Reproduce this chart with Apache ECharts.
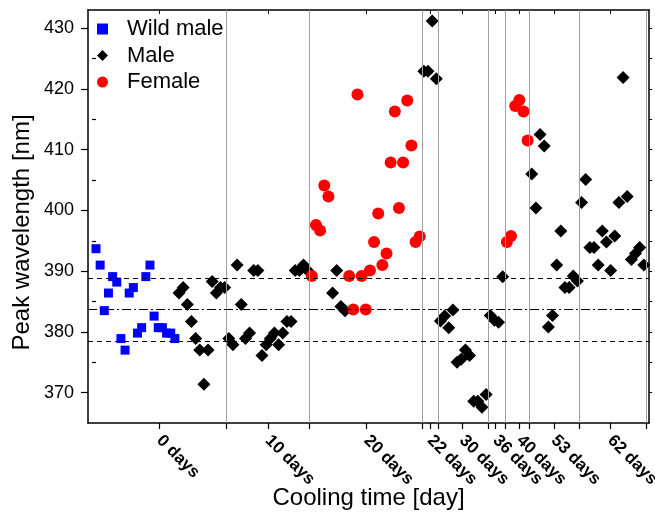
<!DOCTYPE html>
<html>
<head>
<meta charset="utf-8">
<script src="https://cdn.jsdelivr.net/npm/echarts@6/dist/echarts.min.js"></script>
<style>html,body{margin:0;padding:0;background:#fff;}#c{width:655px;height:515px;}</style>
</head>
<body>
<div id="c"></div>
<script>
// measurement index (position along the x axis) and peak wavelength [nm]
const wildX = [0,1,2,3,4,5,6,7,8,9,10,11,12,13,14,15,16,17,18,19];
const wildY = [393.7,391.0,383.5,386.4,389.1,388.2,378.9,377.0,386.4,387.3,379.8,380.7,389.1,391.0,382.6,380.7,380.7,379.8,379.8,378.9];

const maleX = [20,21,22,23,24,25,26,27,28,29,30,31,
  32,33,34,35,36,37,38,39,40,41,42,43,44,45,46,47,48,49,50,51,
  57,58,59,60,
  79,80,81,82,
  83,84,85,86,87,88,89,90,91,92,93,94,
  95,96,97,98,
  105,106,107,108,109,110,111,112,113,114,115,116,
  117,118,119,120,121,122,123,124,125,126,127,128,129,130,131,132];
const maleY = [386.4,387.3,384.5,381.7,378.9,377.0,371.4,377.0,388.3,386.4,387.3,387.3,
  378.9,377.9,391.0,384.5,378.9,379.8,390.1,390.1,376.1,377.9,378.9,379.8,377.9,379.8,381.7,381.7,390.1,390.1,391.0,390.1,
  386.4,390.1,384.2,383.5,
  422.9,422.9,431.2,421.7,
  381.8,382.6,380.7,383.6,375.0,375.5,377.0,376.1,368.6,368.6,367.6,369.7,
  382.7,381.9,381.6,389.1,
  406.0,400.4,412.5,410.6,380.8,382.7,391.0,396.6,387.3,387.3,389.2,388.4,
  401.3,405.1,393.9,393.9,391.0,396.6,394.8,390.1,395.8,401.3,421.9,402.3,391.9,392.9,393.9,391.0];

const femaleX = [52,53,54,55,56,61,62,63,64,65,66,67,68,69,70,71,72,73,74,75,76,77,78,
  99,100,101,102,103,104];
const femaleY = [389.2,397.6,396.7,404.1,402.3,389.2,383.7,419.1,389.2,383.7,390.1,394.8,399.5,391.0,392.9,407.9,416.3,400.4,407.9,418.1,410.7,394.8,395.7,
  394.8,395.8,417.2,418.2,416.3,411.5];

// x-axis groups
const groupLabels = ['0 days','10 days','20 days','22 days','30 days','36 days','40 days','53 days','62 days'];
const groupCenters = [15.25,41.4,65.2,80.5,88.2,96.3,102,110.3,123.9];
const separators = [31.5,51.5,78.5,82.5,94.5,98.5,104.5,116.5,132.5];

// reference levels [nm]
const refDashed = [388.9,378.5];
const refDashDot = [383.7];

const yTicks = [370,380,390,400,410,420,430];
const yMinorTicks = [375,385,395,405,415,425];

const pairs = (xs, ys) => xs.map((x, i) => [x, ys[i]]);
const FONT = 'Liberation Sans, Arial, sans-serif';
const xTickVals = groupCenters.concat(separators);

const chart = echarts.init(document.getElementById('c'), null, {renderer: 'canvas'});
chart.setOption({
  animation: false,
  backgroundColor: '#fff',
  grid: {left: 88, right: 6, top: 10, bottom: 92, containLabel: false, outerBoundsMode: 'none'},
  legend: {
    orient: 'vertical', left: 92, top: 13,
    itemWidth: 11, itemHeight: 11, itemGap: 4.5,
    textStyle: {fontFamily: FONT, fontSize: 22, color: '#000', lineHeight: 22, padding: [0,0,0,14]},
    data: [{name: 'Wild male', icon: 'rect'}, {name: 'Male', icon: 'diamond'}, {name: 'Female', icon: 'circle'}]
  },
  xAxis: [{
    type: 'value', min: -1.93, max: 133.25, position: 'bottom',
    name: 'Cooling time [day]', nameLocation: 'middle', nameGap: 63, nameMoveOverlap: false,
    nameTextStyle: {fontFamily: FONT, fontSize: 24, color: '#000'},
    axisLine: {show: true, onZero: false, lineStyle: {color: '#000', width: 1.5}},
    axisTick: {show: true, inside: false, length: 6, customValues: xTickVals, lineStyle: {color: '#000', width: 1.2}},
    axisLabel: {
      customValues: groupCenters, rotate: -45, margin: 15,
      fontFamily: FONT, fontSize: 17, fontWeight: 'bold', color: '#000',
      formatter: v => { const i = groupCenters.findIndex(c => Math.abs(c - v) < 1e-6); return i >= 0 ? groupLabels[i] : ''; }
    },
    splitLine: {show: false}
  }, {
    type: 'value', min: -1.93, max: 133.25, position: 'top',
    axisLine: {show: true, onZero: false, lineStyle: {color: '#000', width: 1.5}},
    axisTick: {show: true, inside: true, length: 4, customValues: xTickVals, lineStyle: {color: '#000', width: 1}},
    axisLabel: {show: false}, splitLine: {show: false}
  }],
  yAxis: [{
    type: 'value', min: 365, max: 433, position: 'left',
    name: 'Peak wavelength [nm]', nameLocation: 'middle', nameGap: 54, nameMoveOverlap: false,
    nameTextStyle: {fontFamily: FONT, fontSize: 24, color: '#000', padding: [0,32,0,0]},
    axisLine: {show: true, onZero: false, lineStyle: {color: '#000', width: 1.5}},
    axisTick: {show: true, inside: false, length: 7, customValues: yTicks, lineStyle: {color: '#000', width: 1.2}},
    axisLabel: {customValues: yTicks, margin: 14, fontFamily: FONT, fontSize: 18, color: '#000'},
    splitLine: {show: false}
  }, {
    type: 'value', min: 365, max: 433, position: 'left',
    axisLine: {show: false},
    axisTick: {show: true, inside: false, length: 4, customValues: yMinorTicks, lineStyle: {color: '#000', width: 1.2}},
    axisLabel: {show: false}, splitLine: {show: false}
  }, {
    type: 'value', min: 365, max: 433, position: 'right',
    axisLine: {show: true, onZero: false, lineStyle: {color: '#000', width: 1.5}},
    axisTick: {show: true, inside: false, length: 3, customValues: yTicks.concat(yMinorTicks), lineStyle: {color: '#000', width: 1}},
    axisLabel: {show: false}, splitLine: {show: false}
  }],
  series: [{
    type: 'scatter', name: 'guides', data: [], z: 1, silent: true,
    markLine: {
      silent: true, symbol: 'none', animation: false, label: {show: false},
      data: separators.map(v => ({xAxis: v, lineStyle: {color: '#a0a0a0', width: 1, type: 'solid'}}))
        .concat(refDashed.map(v => ({yAxis: v, lineStyle: {color: '#000', width: 1, type: [5, 4]}})))
        .concat(refDashDot.map(v => ({yAxis: v, lineStyle: {color: '#000', width: 1, type: [9, 3, 2, 3]}})))
    }
  }, {
    type: 'scatter', name: 'Wild male', symbol: 'rect', symbolSize: 9, z: 3,
    itemStyle: {color: '#0000ff', opacity: 1}, data: pairs(wildX, wildY)
  }, {
    type: 'scatter', name: 'Male', symbol: 'diamond', symbolSize: 13, z: 3,
    itemStyle: {color: '#000', opacity: 1}, data: pairs(maleX, maleY)
  }, {
    type: 'scatter', name: 'Female', symbol: 'circle', symbolSize: 12, z: 3,
    itemStyle: {color: '#ff0000', opacity: 1}, data: pairs(femaleX, femaleY)
  }]
});
</script>
</body>
</html>
